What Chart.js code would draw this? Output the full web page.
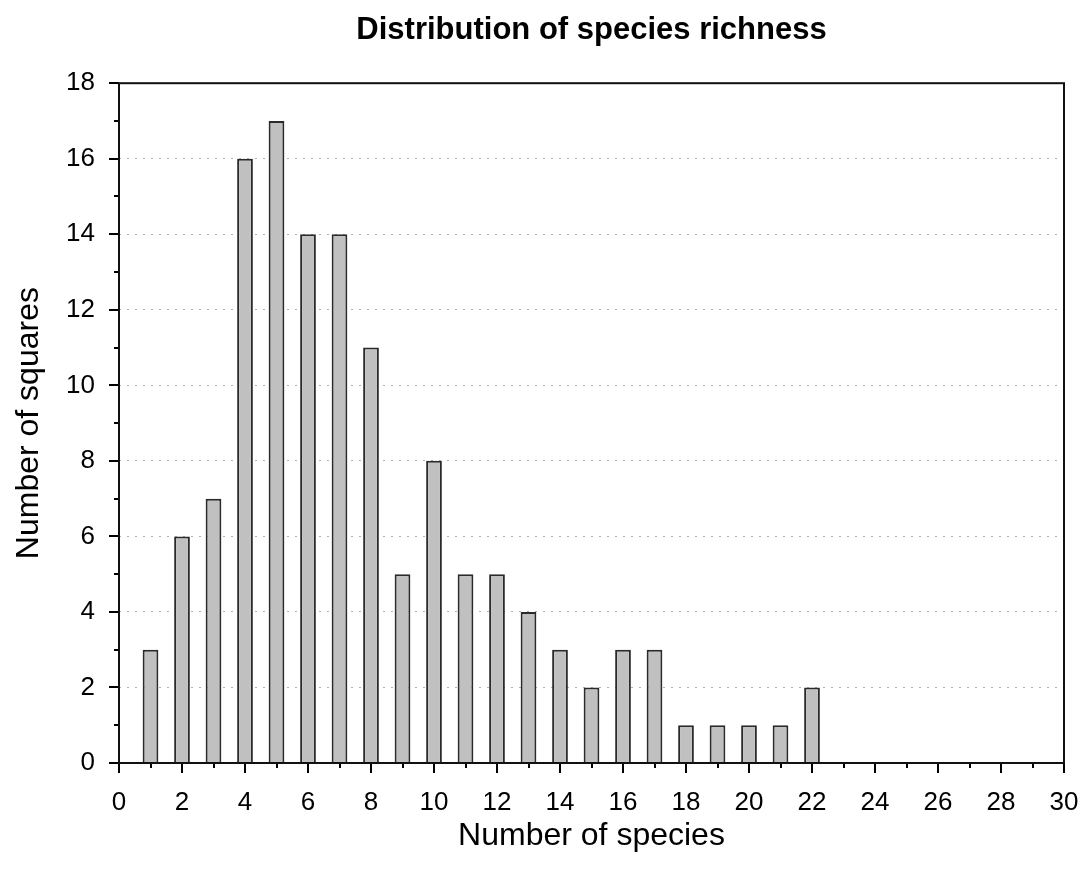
<!DOCTYPE html>
<html><head><meta charset="utf-8">
<script src="https://cdn.jsdelivr.net/npm/chart.js@4"></script>
<style>html,body{margin:0;padding:0;background:#fff;}</style>
</head><body>
<canvas id="c" width="1081" height="872" style="display:block"></canvas>
<script>
const speciesCount = [1,2,3,4,5,6,7,8,9,10,11,12,13,14,15,16,17,18,19,20,21,22];
const squareCount  = [3,6,7,16,17,14,14,11,5,8,5,5,4,3,2,3,3,1,1,1,1,2];
const xRange = [0, 30];
const yRange = [0, 18];
const chartTitle = 'Distribution of species richness';
const xAxisTitle = 'Number of species';
const yAxisTitle = 'Number of squares';

Chart.defaults.font.family = '"Liberation Sans", Arial, sans-serif';
Chart.defaults.color = '#000';

const frameAndTicks = {
  id: 'frameAndTicks',
  afterDraw(chart) {
    const {ctx, chartArea: a, scales: {x, y}} = chart;
    ctx.save();
    ctx.strokeStyle = '#000';
    ctx.lineWidth = 2;
    ctx.beginPath();
    for (let v = xRange[0]; v <= xRange[1]; v++) {
      const px = Math.round(x.getPixelForValue(v));
      const len = v % 2 === 0 ? 10 : 5;
      ctx.moveTo(px, a.bottom); ctx.lineTo(px, a.bottom + len);
    }
    for (let v = yRange[0]; v <= yRange[1]; v++) {
      const py = Math.round(y.getPixelForValue(v));
      const len = v % 2 === 0 ? 10 : 5;
      ctx.moveTo(a.left, py); ctx.lineTo(a.left - len, py);
    }
    ctx.stroke();
    ctx.strokeStyle = '#111';
    ctx.strokeRect(a.left, a.top, a.right - a.left, a.bottom - a.top);
    ctx.restore();
  }
};

new Chart(document.getElementById('c'), {
  type: 'bar',
  data: {
    datasets: [{
      data: speciesCount.map((s, i) => ({x: s, y: squareCount[i]})),
      backgroundColor: '#c0c0c0',
      borderColor: '#2a2a2a',
      borderWidth: 2,
      barPercentage: 0.5,
      categoryPercentage: 1.0
    }]
  },
  options: {
    responsive: false,
    animation: false,
    events: [],
    layout: {padding: {left: 0, right: 17, top: 0, bottom: 0}},
    plugins: {
      legend: {display: false},
      tooltip: {enabled: false},
      title: {
        display: true, text: chartTitle, fullSize: false,
        font: {size: 31, weight: 'bold'}, color: '#000',
        padding: {top: 12, bottom: 34}
      }
    },
    scales: {
      x: {
        type: 'linear', min: xRange[0], max: xRange[1], offset: false,
        afterFit(s) { s.height = 109; s.paddingLeft = 0; s.paddingRight = 0; },
        ticks: {stepSize: 1, autoSkip: false, maxRotation: 0, minRotation: 0,
          callback: v => (v % 2 === 0 ? String(v) : ''),
          font: {size: 26}, color: '#000', padding: 24},
        grid: {display: true, drawOnChartArea: false, drawTicks: false, offset: false},
        border: {display: false},
        title: {display: true, text: xAxisTitle, font: {size: 32}, color: '#000',
          padding: {top: 0, bottom: 17}}
      },
      y: {
        type: 'linear', min: yRange[0], max: yRange[1],
        afterFit(s) { s.width = 119; },
        ticks: {stepSize: 1, autoSkip: false,
          callback: v => (v % 2 === 0 ? String(v) : ''),
          font: {size: 26}, color: '#000', padding: 24},
        grid: {drawTicks: false, lineWidth: 1,
          color: c => (c.tick && c.tick.value % 2 === 0 && c.tick.value > yRange[0] && c.tick.value < yRange[1]) ? '#b0b0b0' : 'rgba(0,0,0,0)'},
        border: {display: false, dash: [2, 6]},
        title: {display: true, text: yAxisTitle, font: {size: 32}, color: '#000',
          padding: {top: 10, bottom: 0}}
      }
    }
  },
  plugins: [frameAndTicks]
});
</script>
</body></html>
